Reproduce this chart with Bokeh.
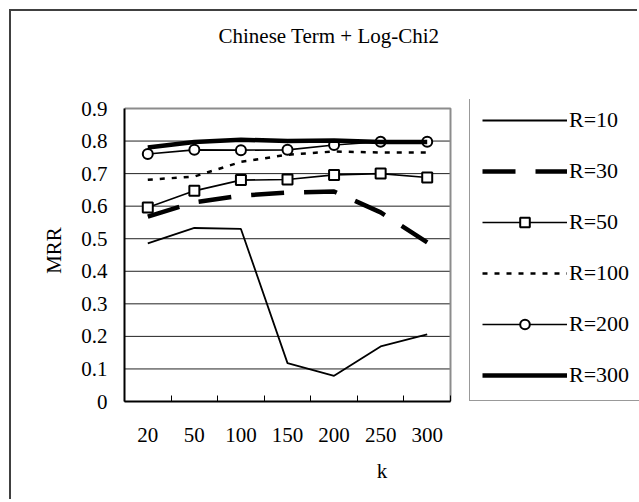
from bokeh.plotting import figure
from bokeh.models import Range1d, FixedTicker, Legend, LegendItem, Title
from bokeh.embed import file_html
from bokeh.resources import INLINE

k_labels = ["20", "50", "100", "150", "200", "250", "300"]
k_pos = [0.5, 1.5, 2.5, 3.5, 4.5, 5.5, 6.5]
k_bounds = [0, 1, 2, 3, 4, 5, 6, 7]

r10 = [0.486, 0.533, 0.530, 0.118, 0.079, 0.169, 0.206]
r30 = [0.568, 0.612, 0.632, 0.642, 0.645, 0.581, 0.489]
r50 = [0.596, 0.647, 0.680, 0.682, 0.696, 0.700, 0.688]
r100 = [0.681, 0.691, 0.736, 0.758, 0.768, 0.765, 0.765]
r200 = [0.760, 0.773, 0.772, 0.773, 0.788, 0.798, 0.798]
r300 = [0.780, 0.797, 0.804, 0.800, 0.802, 0.797, 0.797]

y_ticks = [0, 0.1, 0.2, 0.3, 0.4, 0.5, 0.6, 0.7, 0.8, 0.9]
y_tick_labels = ["0", "0.1", "0.2", "0.3", "0.4", "0.5", "0.6", "0.7", "0.8", "0.9"]

FONT = "Liberation Serif"

# layout (pixels)
CANVAS_W, CANVAS_H = 628, 490
B_LEFT, B_TOP, B_BOTTOM = 113, 88, 100
AXES_W, AXES_H = 326, 293          # drawn axes box inside the frame
FRAME_W = CANVAS_W - B_LEFT
FRAME_H = CANVAS_H - B_TOP - B_BOTTOM
x0, x1 = k_bounds[0], k_bounds[-1]
y0, y1 = y_ticks[0], y_ticks[-1]
x_end = x0 + (x1 - x0) * FRAME_W / AXES_W
y_end = y0 + (y1 - y0) * FRAME_H / AXES_H

p = figure(width=CANVAS_W, height=CANVAS_H, x_range=Range1d(x0, x_end), y_range=Range1d(y0, y_end),
           output_backend="svg", toolbar_location=None,
           min_border_left=B_LEFT, min_border_top=B_TOP, min_border_right=0, min_border_bottom=B_BOTTOM)
p.styles = {"margin-left": "9px", "margin-top": "9px",
            "border-left": "2px solid #404040", "border-top": "2px solid #404040"}
p.background_fill_color = "white"
p.border_fill_color = "white"
p.outline_line_color = None

p.title.text = "Chinese Term + Log-Chi2"
p.title.align = "left"
p.title.offset = 94
p.title.text_font = FONT
p.title.text_font_size = "21px"
p.title.text_font_style = "normal"
p.title.text_color = "black"

spacer = Title(text=" ", text_font_size="31px", text_font=FONT)
p.add_layout(spacer, "above")

xa = p.xaxis[0]
xa.bounds = (x0, x1)
xa.ticker = FixedTicker(ticks=k_pos, minor_ticks=k_bounds)
xa.major_label_overrides = dict(zip(k_pos, k_labels))
xa.major_tick_in = 0
xa.major_tick_out = 0
xa.minor_tick_in = 6
xa.minor_tick_out = 0
xa.minor_tick_line_color = "black"
xa.minor_tick_line_width = 1
xa.axis_line_color = "black"
xa.axis_line_width = 2
xa.major_label_standoff = 26
xa.major_label_text_font = FONT
xa.major_label_text_font_size = "21px"
xa.major_label_text_color = "black"
xa.axis_label = "k"
xa.axis_label_standoff = 14
xa.axis_label_text_font = FONT
xa.axis_label_text_font_size = "21px"
xa.axis_label_text_font_style = "normal"
xa.axis_label_text_color = "black"

ya = p.yaxis[0]
ya.bounds = (y0, y1)
ya.ticker = FixedTicker(ticks=y_ticks, minor_ticks=[])
ya.major_label_overrides = dict(zip(y_ticks, y_tick_labels))
ya.major_tick_in = 0
ya.major_tick_out = 0
ya.minor_tick_in = 0
ya.minor_tick_out = 0
ya.axis_line_color = "black"
ya.axis_line_width = 2
ya.major_label_standoff = 17
ya.major_label_text_font = FONT
ya.major_label_text_font_size = "21px"
ya.major_label_text_color = "black"
ya.axis_label = "MRR"
ya.axis_label_standoff = 12
ya.axis_label_text_font = FONT
ya.axis_label_text_font_size = "21px"
ya.axis_label_text_font_style = "normal"
ya.axis_label_text_color = "black"

p.xgrid.visible = False
p.ygrid.visible = False

# horizontal grid lines limited to the axes box
p.segment(x0=[x0] * len(y_ticks), x1=[x1] * len(y_ticks), y0=y_ticks, y1=y_ticks,
          line_color="#222222", line_width=1)
# gray plot-area border (top and right)
p.line(x=[x0, x1, x1], y=[y1, y1, y0], line_color="#8c8c8c", line_width=2)

l10 = p.line(k_pos, r10, line_color="black", line_width=1.8)
l30 = p.line(k_pos, r30, line_color="black", line_width=4.5, line_dash="33 20")
l50 = p.line(k_pos, r50, line_color="black", line_width=1.6)
s50 = p.scatter(k_pos, r50, marker="square", size=10, fill_color="white",
                line_color="black", line_width=2)
l100 = p.line(k_pos, r100, line_color="black", line_width=2.5, line_dash="5 7")
l200 = p.line(k_pos, r200, line_color="black", line_width=1.6)
s200 = p.scatter(k_pos, r200, marker="circle", size=10, fill_color="white",
                 line_color="black", line_width=2)
l300 = p.line(k_pos, r300, line_color="black", line_width=4.5)

items = [
    LegendItem(label="R=10", renderers=[l10]),
    LegendItem(label="R=30", renderers=[l30]),
    LegendItem(label="R=50", renderers=[l50, s50]),
    LegendItem(label="R=100", renderers=[l100]),
    LegendItem(label="R=200", renderers=[l200, s200]),
    LegendItem(label="R=300", renderers=[l300]),
]
legend = Legend(items=items, location=(345, 0), padding=12, spacing=25,
                label_height=24, glyph_height=24, glyph_width=85, label_standoff=2,
                label_width=80, margin=0,
                border_line_color="#333333", border_line_width=1,
                background_fill_color="white", background_fill_alpha=1,
                label_text_font=FONT, label_text_font_size="22px", label_text_color="black")
p.add_layout(legend)

open("out.html", "w").write(file_html(p, INLINE))
